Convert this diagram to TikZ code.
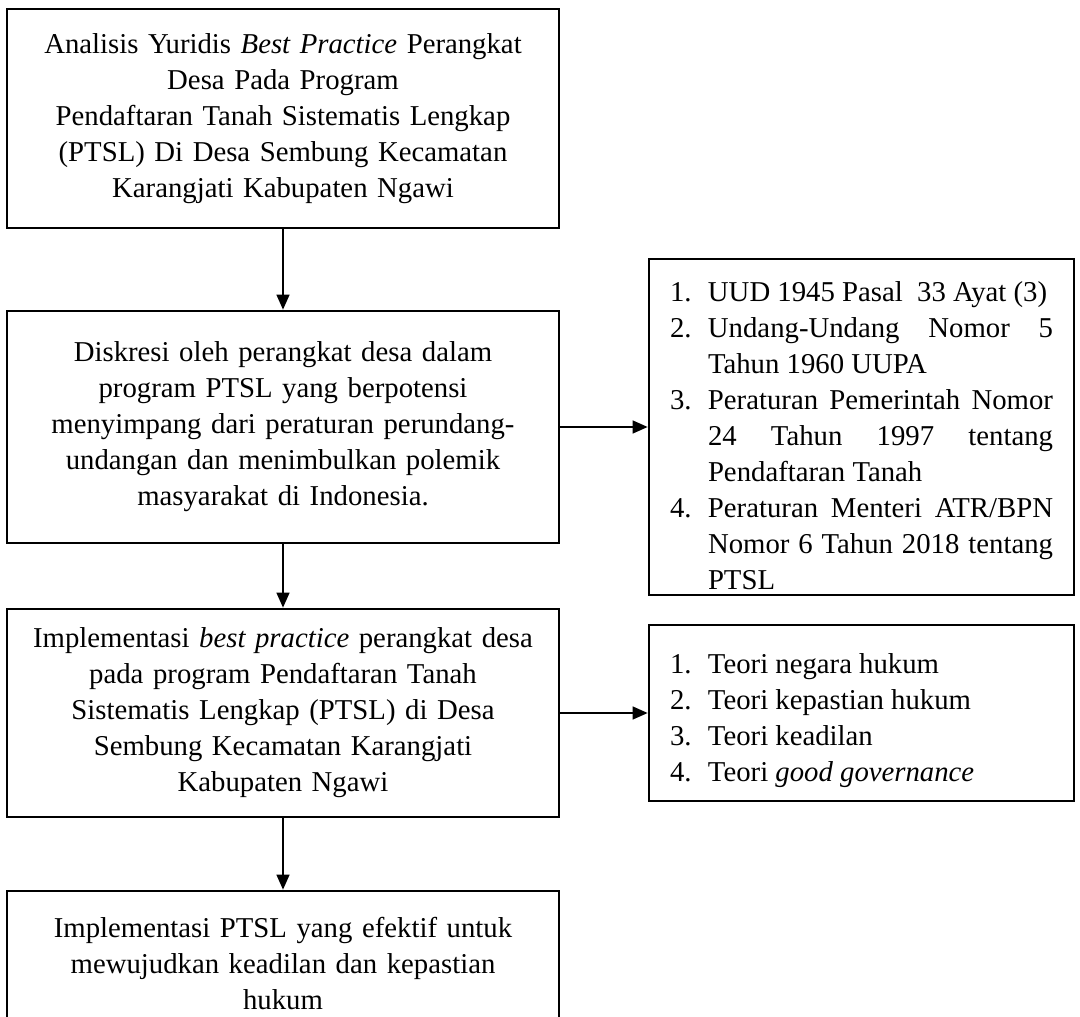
\documentclass[tikz,border=0pt]{standalone}
\usepackage{fontspec}
\setmainfont{Liberation Serif}
\usetikzlibrary{positioning, arrows.meta}

\tikzset{
  box/.style={draw, line width=1.1pt, inner sep=0pt, font=\fontsize{11.5pt}{14.4pt}\selectfont},
  mainbox/.style={box, minimum width=220.8pt, text width=212pt, align=center},
  listbox/.style={box, minimum width=170pt, text width=153.2pt, inner xsep=8.4pt, align=justify},
}
\newcommand{\listitem}[2]{\noindent\hangindent=15.2pt\hangafter=1\makebox[15.2pt][l]{#1}#2\par}

\begin{document}
\begin{tikzpicture}[x=0.4pt, y=-0.4pt, node distance=120pt, on grid,
    >={Triangle[length=6pt,width=5.2pt]}, arrow/.style={->, line width=0.55pt}]
   \useasboundingbox (0,0) rectangle (1080,1017);
   \node[mainbox, minimum height=87.6pt] (analisis) at (283,118.5)
     {Analisis Yuridis \textit{Best Practice} Perangkat\\ Desa Pada Program\\
      Pendaftaran Tanah Sistematis Lengkap\\ (PTSL) Di Desa Sembung Kecamatan\\
      Karangjati Kabupaten Ngawi};
   \node[mainbox, minimum height=92.8pt] (diskresi) [below=123.4pt of analisis]
     {Diskresi oleh perangkat desa dalam\\ program PTSL yang berpotensi\\
      menyimpang dari peraturan perundang-\\ undangan dan menimbulkan polemik\\
      masyarakat di Indonesia.};
   \node[mainbox, minimum height=83.2pt] (implementasi) [below=114.4pt of diskresi]
     {Implementasi \textit{best practice} perangkat desa\\ pada program Pendaftaran Tanah\\
      Sistematis Lengkap (PTSL) di Desa\\ Sembung Kecamatan Karangjati\\
      Kabupaten Ngawi};
   \node[mainbox, minimum height=58.4pt] (hasil) [below=100.4pt of implementasi]
     {Implementasi PTSL yang efektif untuk\\ mewujudkan keadilan dan kepastian\\ hukum};
   % text sits low in the list boxes
   \node[listbox, minimum height=134.4pt] (dasar) [right=231.4pt of diskresi]
     {\listitem{1.}{\rule{0pt}{15pt}UUD 1945 Pasal\ \ 33 Ayat (3)}
      \listitem{2.}{Undang-Undang Nomor 5\linebreak Tahun 1960 UUPA}
      \listitem{3.}{Peraturan Pemerintah Nomor\linebreak 24 Tahun 1997 tentang\linebreak Pendaftaran Tanah}
      \listitem{4.}{Peraturan Menteri ATR/BPN\linebreak Nomor 6 Tahun 2018 tentang\linebreak PTSL}};
   \node[listbox, minimum height=70.4pt] (teori) [right=231.4pt of implementasi]
     {\listitem{1.}{\rule{0pt}{14pt}Teori negara hukum}
      \listitem{2.}{Teori kepastian hukum}
      \listitem{3.}{Teori keadilan}
      \listitem{4.}{Teori \textit{good governance}}};
    \draw[arrow] (analisis) -- (diskresi);
    \draw[arrow] (diskresi) -- (implementasi);
    \draw[arrow] (implementasi) -- (hasil);
    \draw[arrow] (diskresi) -- (dasar);
    \draw[arrow] (implementasi) -- (teori);
\end{tikzpicture}
\end{document}
